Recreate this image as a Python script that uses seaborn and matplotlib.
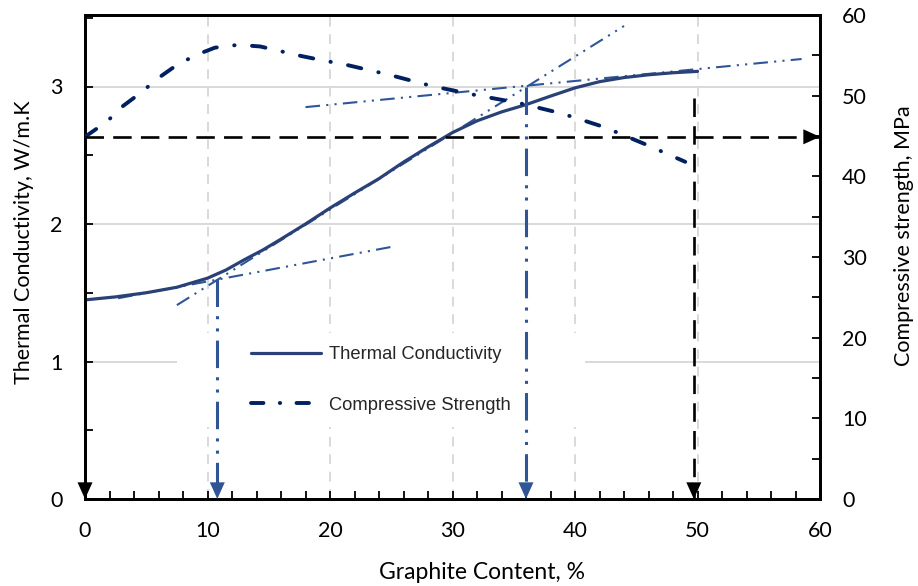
import matplotlib
matplotlib.use("Agg")
import matplotlib.pyplot as plt
import seaborn as sns
from matplotlib.lines import Line2D
from matplotlib.patches import Rectangle
from matplotlib.ticker import MultipleLocator

# ---------------- data ----------------
graphite_tc = [0, 2.5, 5, 7.5, 10, 11.5, 13, 14.5, 16, 18, 20, 22, 24, 26, 28, 30,
               32, 34, 36, 38, 40, 42, 44, 46, 48, 50]
thermal_conductivity = [1.448, 1.47, 1.50, 1.54, 1.606, 1.665, 1.74, 1.81, 1.89, 2.0,
                        2.116, 2.225, 2.33, 2.45, 2.56, 2.665, 2.75, 2.815, 2.868,
                        2.93, 2.99, 3.035, 3.065, 3.085, 3.10, 3.11]

graphite_cs = [0, 1.8, 3, 4.5, 6, 7.4, 9, 10.6, 12.5, 14.3, 16, 17.7, 19.5, 21.4,
               24.8, 28.3, 31.8, 35.4, 38.9, 42.4, 45.7, 49.0]
compressive_strength = [44.9, 46.8, 48.6, 50.3, 52.2, 53.7, 55.0, 55.95, 56.3, 56.1,
                        55.5, 54.9, 54.35, 53.8, 52.6, 51.2, 50.1, 49.1, 47.8, 46.1,
                        44.0, 41.8]

tangent_low_x = [2.7, 25.4]
tangent_low_y = [1.46, 1.84]
tangent_mid_x = [7.5, 44.0]
tangent_mid_y = [1.41, 3.44]
tangent_high_x = [18.0, 58.5]
tangent_high_y = [2.85, 3.20]

transition_x = [10.8, 36.0]
transition_tc = [1.60, 3.00]

ref_strength = 44.9
limit_x = 49.7
limit_strength = 49.7

x_ticks = [0, 10, 20, 30, 40, 50, 60]
tc_ticks = [0, 1, 2, 3]
cs_ticks = [0, 10, 20, 30, 40, 50, 60]

legend_labels = ["Thermal Conductivity", "Compressive Strength"]

# ---------------- style ----------------
sns.set_theme(style="white")
plt.rcParams["font.family"] = ["Lato", "DejaVu Sans"]

C_TC = "#2A4177"
C_CS = "#002060"
C_TAN = "#2F5597"
C_GRID = "#D9D9D9"

fig = plt.figure(figsize=(9.18, 5.86), dpi=100)
ax = fig.add_axes([85 / 918, 1 - 499 / 586, 735 / 918, 484 / 586])
ax2 = ax.twinx()

# thermal conductivity
sns.lineplot(x=graphite_tc, y=thermal_conductivity, ax=ax, color=C_TC,
             linewidth=2.3, zorder=4)

tan_ls = (0, (7, 3, 1, 3, 1, 3))
for tx, ty in [(tangent_low_x, tangent_low_y), (tangent_mid_x, tangent_mid_y),
               (tangent_high_x, tangent_high_y)]:
    sns.lineplot(x=tx, y=ty, ax=ax, color=C_TAN, linewidth=1.5,
                 linestyle=tan_ls, zorder=3)

# compressive strength
cs_ls = (0, (3.5, 4.5, 0.1, 4.5))
sns.lineplot(x=graphite_cs, y=compressive_strength, ax=ax2, color=C_CS,
             linewidth=2.8, linestyle=cs_ls, dash_capstyle="round", zorder=4)

# limits
ax.set_xlim(0, 60)
ax.set_ylim(0, 3.52)
ax2.set_ylim(0, 60)

# grid
ax.set_axisbelow(True)
ax.xaxis.grid(True, which="major", color=C_GRID, linestyle=(0, (5, 4)), linewidth=1.4)
ax.yaxis.grid(True, which="major", color=C_GRID, linestyle="-", linewidth=1.4)

# ticks
ax.set_xticks(x_ticks)
ax.set_yticks(tc_ticks)
ax2.set_yticks(cs_ticks)
ax.xaxis.set_minor_locator(MultipleLocator(2))
ax.yaxis.set_minor_locator(MultipleLocator(0.5))
ax2.yaxis.set_minor_locator(MultipleLocator(5))
for a in (ax, ax2):
    a.tick_params(which="both", direction="in", length=6, width=1.3, color="black",
                  labelsize=15.5, labelcolor="black")
ax.tick_params(axis="x", which="both", bottom=True, top=False, pad=16)
ax.tick_params(axis="y", which="both", left=True, right=False, pad=16)
ax2.tick_params(axis="y", which="both", right=True, left=False, pad=16)
ax2.tick_params(axis="x", which="both", bottom=False, top=False)

for a in (ax, ax2):
    for s in a.spines.values():
        s.set_color("black")
        s.set_linewidth(2.0)

ax.set_xlabel("Graphite Content, %", fontsize=16.5, color="black")
ax.set_ylabel("Thermal Conductivity, W/m.K", fontsize=15.5, color="black")
ax2.set_ylabel("Compressive strength, MPa", fontsize=15.5, color="black")
ax.xaxis.set_label_coords((482 - 85) / 735, (499 - 562) / 484)
ax.yaxis.set_label_coords((34 - 85) / 735, (499 - 242) / 484)
ax2.yaxis.set_label_coords((894 - 85) / 735, (499 - 236) / 484)

# white legend background (covers grid)
ax2.add_patch(Rectangle(((177 - 85) / 735, (499 - 427) / 484), (585 - 177) / 735,
                        (427 - 333) / 484, transform=ax2.transAxes,
                        facecolor="white", edgecolor="none", zorder=1))

handles = [Line2D([], [], color=C_TC, linewidth=2.3),
           Line2D([], [], color=C_CS, linewidth=2.8, linestyle=(0, (3.2, 4.2, 0.1, 4.2)),
                  dash_capstyle="round")]
leg = ax2.legend(handles, legend_labels, loc="upper left",
                 bbox_to_anchor=((251 - 85) / 735, (499 - 346) / 484),
                 frameon=False, handlelength=3.8, handletextpad=0.45,
                 labelspacing=1.85, borderpad=0, borderaxespad=0,
                 prop={"family": ["Liberation Sans", "DejaVu Sans"], "size": 13.2})
leg.set_zorder(2)

# ---------------- arrows ----------------
head = "-|>,head_length=0.6,head_width=0.27"

def arrow(axis, x0, y0, x1, y1, color, ls, lw, trans):
    axis.plot([x0, x1], [y0, y1], color=color, linestyle=ls, linewidth=lw,
              transform=trans, zorder=6, solid_capstyle="butt", clip_on=False)
    axis.annotate("", xy=(x1, y1), xytext=(x0, y0), xycoords=trans, textcoords=trans,
                  arrowprops=dict(arrowstyle=head, mutation_scale=20, color=color,
                                  linewidth=0, shrinkA=0, shrinkB=0),
                  zorder=7, annotation_clip=False)

blue_ls = (0, (9, 3, 1, 3, 1, 3))
for xv, yv in zip(transition_x, transition_tc):
    arrow(ax2, xv, yv, xv, 0, C_TAN, blue_ls, 2.2, ax.transData)

black_ls = (0, (7, 3.5))
arrow(ax2, 0, ref_strength, 60, ref_strength, "black", black_ls, 1.9, ax2.transData)
arrow(ax2, 0, ref_strength, 0, 0, "black", "-", 1.9, ax2.transData)
arrow(ax2, limit_x, limit_strength, limit_x, 0, "black", black_ls, 1.9, ax2.transData)

ax.set_xlim(0, 60)
ax.set_ylim(0, 3.52)
ax2.set_ylim(0, 60)

fig.savefig("out.png", dpi=100)
